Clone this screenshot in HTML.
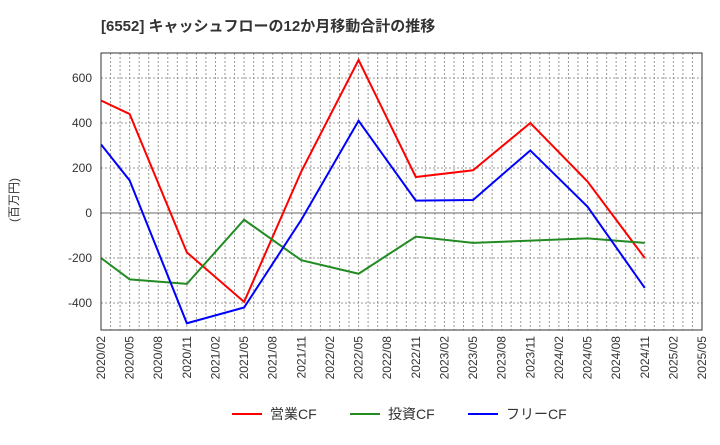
<!DOCTYPE html>
<html><head><meta charset="utf-8"><style>
body{margin:0;background:#fff;font-family:"Liberation Sans","Noto Sans CJK JP",sans-serif}
</style></head><body>
<svg id="c" width="720" height="440" xmlns="http://www.w3.org/2000/svg">
<text x="101" y="31" font-size="15" font-weight="bold" fill="#333">[6552]  キャッシュフローの12か月移動合計の推移</text>
<text transform="translate(18,200) rotate(-90)" font-size="12" fill="#333" text-anchor="middle">(百万円)</text>
<g id="grid"></g><g id="series"></g><g id="axes"></g>
<g>
<line x1="232" y1="414" x2="262" y2="414" stroke="#f00" stroke-width="2"/><text x="270" y="419" font-size="14" fill="#333">営業CF</text>
<line x1="350" y1="414" x2="380" y2="414" stroke="#228b22" stroke-width="2"/><text x="388" y="419" font-size="14" fill="#333">投資CF</text>
<line x1="468" y1="414" x2="498" y2="414" stroke="#00f" stroke-width="2"/><text x="506" y="419" font-size="14" fill="#333">フリーCF</text>
</g>
</svg>
<script>
const tickLabels=["2020/02","2020/05","2020/08","2020/11","2021/02","2021/05","2021/08","2021/11","2022/02","2022/05","2022/08","2022/11","2023/02","2023/05","2023/08","2023/11","2024/02","2024/05","2024/08","2024/11","2025/02","2025/05"];
const yTicks=[-400,-200,0,200,400,600];
const pointIdx=[0,1,3,5,7,9,11,13,15,17,19];
const operatingCF=[500,440,-175,-395,185,680,160,190,400,140,-200];
const investingCF=[-200,-295,-315,-30,-210,-270,-105,-133,-123,-113,-133];
const freeCF=[305,145,-490,-420,-30,410,55,58,278,28,-333];
const L=101,R=702,T=53,B=330;
const X=i=>L+i*(R-L)/21;
const Y=v=>213-v*45/200;
const ns="http://www.w3.org/2000/svg";
function mk(p,t,a){const e=document.createElementNS(ns,t);for(const k in a)e.setAttribute(k,a[k]);p.appendChild(e);return e;}
const g=document.getElementById('grid'),ax=document.getElementById('axes'),s=document.getElementById('series');
for(let m=1;m<63;m++){const x=L+m*(R-L)/63;const e=mk(g,'line',{x1:x,y1:T,x2:x,y2:B,stroke:'#999','stroke-dasharray':'2,2','stroke-width':1});
}
yTicks.forEach(v=>{const e=mk(g,'line',{x1:L,y1:Y(v),x2:R,y2:Y(v),stroke:v===0?'#666':'#999','stroke-dasharray':v===0?'none':'2,2','stroke-width':1});

const t=mk(ax,'text',{x:L-9,y:Y(v)+4,'font-size':12,fill:'#333','text-anchor':'end'});t.textContent=v;
});
tickLabels.forEach((l,i)=>{const t=mk(ax,'text',{transform:`translate(${X(i)+4},${B+6}) rotate(-90)`,'font-size':12,fill:'#333','text-anchor':'end'});t.textContent=l;
});
const f=mk(ax,'rect',{x:L,y:T,width:R-L,height:B-T,fill:'none',stroke:'#333'});

[[operatingCF,'#f00','operating-cf-line'],[investingCF,'#228b22','investing-cf-line'],[freeCF,'#00f','free-cf-line']].forEach(([d,c,n])=>{
const p=mk(s,'polyline',{points:d.map((v,i)=>X(pointIdx[i])+','+Y(v)).join(' '),fill:'none',stroke:c,'stroke-width':2});
});
</script>
</body></html>
